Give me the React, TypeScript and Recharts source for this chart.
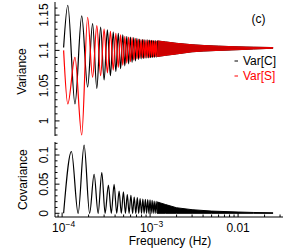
import { ComposedChart, Line, Area, XAxis, YAxis } from 'recharts'

// Var[C] and Var[S]: peaks and troughs (frequency in Hz)
const varFreq = [
  1.04e-4, 1.16e-4, 1.4e-4, 1.67e-4, 1.95e-4, 2.22e-4, 2.48e-4, 2.74e-4, 3.0e-4, 3.27e-4, 3.54e-4, 3.81e-4, 4.08e-4, 4.35e-4,
  4.62e-4, 4.89e-4, 5.16e-4, 5.43e-4, 5.7e-4, 5.97e-4, 6.24e-4, 6.52e-4, 6.8e-4, 7.08e-4, 7.35e-4, 7.62e-4, 7.9e-4,
  8.17e-4, 8.45e-4, 8.72e-4, 9.0e-4, 9.27e-4, 9.55e-4, 9.82e-4, 1.01e-3, 1.037e-3, 1.065e-3, 1.092e-3, 1.12e-3, 1.147e-3, 1.175e-3, 1.202e-3,
]
const varC = [
  1.104, 1.164, 1.024, 1.149, 1.048, 1.138, 1.046, 1.133, 1.058, 1.129, 1.064, 1.126, 1.07, 1.124,
  1.074, 1.122, 1.078, 1.12, 1.081, 1.119, 1.083, 1.118, 1.085, 1.117, 1.087, 1.116, 1.088,
  1.1155, 1.0885, 1.115, 1.089, 1.1148, 1.0893, 1.1145, 1.0896, 1.1142, 1.0899, 1.114, 1.0902, 1.1137, 1.0905, 1.1134,
]
const varS = [
  1.1, 1.024, 1.09, 0.98, 1.147, 1.062, 1.135, 1.064, 1.13, 1.068, 1.127, 1.072, 1.124, 1.076,
  1.122, 1.079, 1.12, 1.082, 1.119, 1.084, 1.118, 1.086, 1.117, 1.088, 1.116, 1.089, 1.115,
  1.0892, 1.1148, 1.0895, 1.1145, 1.0898, 1.1142, 1.0901, 1.114, 1.0904, 1.1137, 1.0907, 1.1134, 1.091, 1.1131, 1.0913,
]

// above ~1.2e-3 Hz the oscillation is too dense to separate: envelope of the band
const bandFreq = [1.202e-3, 1.5e-3, 2e-3, 3e-3, 4e-3, 6e-3, 1e-2, 1.5e-2, 2.5e-2]
const bandLo = [1.0913, 1.093, 1.095, 1.098, 1.099, 1.1, 1.101, 1.102, 1.103]
const bandHi = [1.1134, 1.112, 1.11, 1.108, 1.107, 1.106, 1.105, 1.1045, 1.104]

// covariance peaks / zeros
const covFreq = [
  1.04e-4, 1.276e-4, 1.52e-4, 1.778e-4, 2.054e-4, 2.31e-4, 2.566e-4, 2.826e-4, 3.081e-4, 3.358e-4, 3.624e-4, 3.898e-4, 4.173e-4, 4.443e-4,
  4.707e-4, 4.973e-4, 5.241e-4, 5.507e-4, 5.772e-4, 6.05e-4, 6.325e-4, 6.596e-4, 6.879e-4, 7.155e-4, 7.421e-4, 7.699e-4, 7.987e-4,
  8.27e-4, 8.55e-4, 8.83e-4, 9.12e-4, 9.4e-4, 9.7e-4, 9.98e-4, 1.027e-3, 1.055e-3, 1.085e-3, 1.113e-3, 1.143e-3, 1.172e-3, 1.2e-3,
]
const cov = [
  0, 0.106, 0, 0.117, 0, 0.067, 0, 0.07, 0, 0.0485, 0, 0.0497, 0, 0.038,
  0, 0.037, 0, 0.032, 0, 0.031, 0, 0.028, 0, 0.027, 0, 0.025, 0,
  0.0245, 0, 0.024, 0, 0.0235, 0, 0.023, 0, 0.022, 0, 0.021, 0, 0.0205, 0,
]
const covBandFreq = [1.2e-3, 1.5e-3, 2e-3, 3e-3, 5e-3, 1e-2, 1.5e-2, 2.5e-2]
const covBandHi = [0.0195, 0.015, 0.0095, 0.0062, 0.0038, 0.0022, 0.0014, 0.0008]

const xTicks = [9e-5, 1e-4, 2e-4, 3e-4, 4e-4, 5e-4, 6e-4, 7e-4, 8e-4, 9e-4, 1e-3, 2e-3, 3e-3, 4e-3, 5e-3, 6e-3, 7e-3, 8e-3, 9e-3, 1e-2, 2e-2, 3e-2]
const xMajor = [1e-4, 1e-3, 1e-2]
const topTicks = [0.98, 0.99, 1, 1.01, 1.02, 1.03, 1.04, 1.05, 1.06, 1.07, 1.08, 1.09, 1.1, 1.11, 1.12, 1.13, 1.14, 1.15, 1.16]
const topMajor = [1, 1.05, 1.1, 1.15]
const topLabels = ['1', '1.05', '1.1', '1.15']
const botTicks = [0, 0.01, 0.02, 0.03, 0.04, 0.05, 0.06, 0.07, 0.08, 0.09, 0.1, 0.11, 0.12]
const botMajor = [0, 0.05, 0.1]
const botLabels = ['0', '0.05', '0.1']

const xDomain = [8.3e-5, 0.0324]
const font = '"Liberation Sans", Arial, Helvetica, sans-serif'

const topRows = [
  ...varFreq.map((f, i) => ({ f, c: varC[i], s: varS[i] })),
  ...bandFreq.map((f, i) => ({ f, band: [bandLo[i], bandHi[i]] })),
]
const botRows = [
  ...covFreq.map((f, i) => ({ f, cov: cov[i] })),
  ...covBandFreq.map((f, i) => ({ f, covBand: [0, covBandHi[i]] })),
]

const idx = (v: number, list: number[]) => list.findIndex((b) => Math.abs(v - b) < 1e-9)

function xLabel(v: number, x: number, y: number) {
  const ty = y + 14.5
  if (Math.abs(v - 1e-2) < 1e-12) {
    return <text x={x} y={ty} textAnchor="middle" fontSize={12} fontFamily={font}>0.01</text>
  }
  const exp = v < 5e-4 ? '\u22124' : '\u22123'
  return (
    <text x={x + 1.5} y={ty} textAnchor="middle" fontSize={12} fontFamily={font}>
      10<tspan dy={-5} fontSize={8.5}>{exp}</tspan>
    </text>
  )
}

const makeXTick = (side: 'top' | 'bottom', labelled: boolean) => (props: any) => {
  const { x, y, payload } = props
  const major = idx(payload.value, xMajor) >= 0
  const len = major ? 4.5 : 2.5
  const dir = side === 'bottom' ? -1 : 1
  return (
    <g>
      <line x1={x} x2={x} y1={y} y2={y + dir * len} stroke="#000" />
      {labelled && major && xLabel(payload.value, x, y)}
    </g>
  )
}

const makeYTick = (side: 'left' | 'right', majors: number[], labels: string[] | null) => (props: any) => {
  const { x, y, payload } = props
  const k = idx(payload.value, majors)
  const len = k >= 0 ? 4.5 : 2.5
  const dir = side === 'left' ? 1 : -1
  return (
    <g>
      <line x1={x} x2={x + dir * len} y1={y} y2={y} stroke="#000" />
      {labels && k >= 0 && (
        <text transform={`translate(${x - 7.5},${y}) rotate(-90)`} textAnchor="middle" fontSize={12} fontFamily={font}>
          {labels[k]}
        </text>
      )}
    </g>
  )
}

const axisLine = { stroke: '#000', strokeWidth: 1 }

function Frame({ yDomain, yTicks, yMajor, yLabels, labelledX }: any) {
  return [
    <XAxis key="xb" xAxisId="b" dataKey="f" type="number" scale="log" domain={xDomain} allowDataOverflow ticks={xTicks} interval={0}
      height={labelledX ? 31 : 0} tickSize={0} tickMargin={0} tickLine={false} axisLine={axisLine} tick={makeXTick('bottom', labelledX)} />,
    <XAxis key="xt" xAxisId="t" orientation="top" dataKey="f" type="number" scale="log" domain={xDomain} allowDataOverflow ticks={xTicks} interval={0}
      height={0} tickSize={0} tickMargin={0} tickLine={false} axisLine={axisLine} tick={makeXTick('top', false)} />,
    <YAxis key="yl" yAxisId="l" type="number" domain={yDomain} allowDataOverflow ticks={yTicks} interval={0} width={55}
      tickSize={0} tickMargin={0} tickLine={false} axisLine={axisLine} tick={makeYTick('left', yMajor, yLabels)} />,
    <YAxis key="yr" yAxisId="r" orientation="right" type="number" domain={yDomain} allowDataOverflow ticks={yTicks} interval={0} width={0}
      tickSize={0} tickMargin={0} tickLine={false} axisLine={axisLine} tick={makeYTick('right', yMajor, null)} />,
  ]
}

export default function App() {
  return (
    <div style={{ position: 'absolute', left: 0, top: 0, width: 287, height: 248, background: '#fff', fontFamily: font }}>
      <div style={{ position: 'absolute', left: 0, top: 0 }}>
        <ComposedChart width={287} height={138} data={topRows} margin={{ top: 2, right: 4, bottom: 2, left: 0 }}>
          {Frame({ yDomain: [0.9786, 1.1686], yTicks: topTicks, yMajor: topMajor, yLabels: topLabels, labelledX: false })}
          <Area xAxisId="b" yAxisId="l" dataKey="band" type="linear" stroke="#000" strokeWidth={1} fill="#000" fillOpacity={1} isAnimationActive={false} connectNulls />
          <Area xAxisId="b" yAxisId="l" dataKey="band" type="linear" stroke="#f00" strokeWidth={1} strokeOpacity={0.8} fill="#f00" fillOpacity={0.8} isAnimationActive={false} connectNulls />
          <Line xAxisId="b" yAxisId="l" dataKey="c" type="monotone" stroke="#000" strokeWidth={1.2} dot={false} isAnimationActive={false} connectNulls />
          <Line xAxisId="b" yAxisId="l" dataKey="s" type="monotone" stroke="#f00" strokeWidth={1.2} dot={false} isAnimationActive={false} connectNulls />
        </ComposedChart>
      </div>
      <div style={{ position: 'absolute', left: 0, top: 141 }}>
        <ComposedChart width={287} height={107} data={botRows} margin={{ top: 1, right: 4, bottom: 0, left: 0 }}>
          {Frame({ yDomain: [-0.00635, 0.1223], yTicks: botTicks, yMajor: botMajor, yLabels: botLabels, labelledX: true })}
          <Area xAxisId="b" yAxisId="l" dataKey="covBand" type="linear" stroke="#000" strokeWidth={1} fill="#000" fillOpacity={1} isAnimationActive={false} connectNulls />
          <Line xAxisId="b" yAxisId="l" dataKey="cov" type="monotone" stroke="#000" strokeWidth={1.2} dot={false} isAnimationActive={false} connectNulls />
        </ComposedChart>
      </div>
      <svg width={287} height={248} style={{ position: 'absolute', left: 0, top: 0, pointerEvents: 'none' }} fontFamily={font} fontSize={12}>
        <text transform="translate(26,71.5) rotate(-90)" textAnchor="middle">Variance</text>
        <text transform="translate(26.5,179.7) rotate(-90)" textAnchor="middle">Covariance</text>
        <text x={170} y={244.5} textAnchor="middle">Frequency (Hz)</text>
        <text x={258.5} y={22.5} textAnchor="middle">(c)</text>
        <line x1={234.5} x2={238} y1={61} y2={61} stroke="#000" />
        <text x={243} y={64.5}>Var[C]</text>
        <line x1={234.5} x2={238} y1={76} y2={76} stroke="#f00" />
        <text x={243} y={79.5} fill="#f00">Var[S]</text>
      </svg>
    </div>
  )
}
